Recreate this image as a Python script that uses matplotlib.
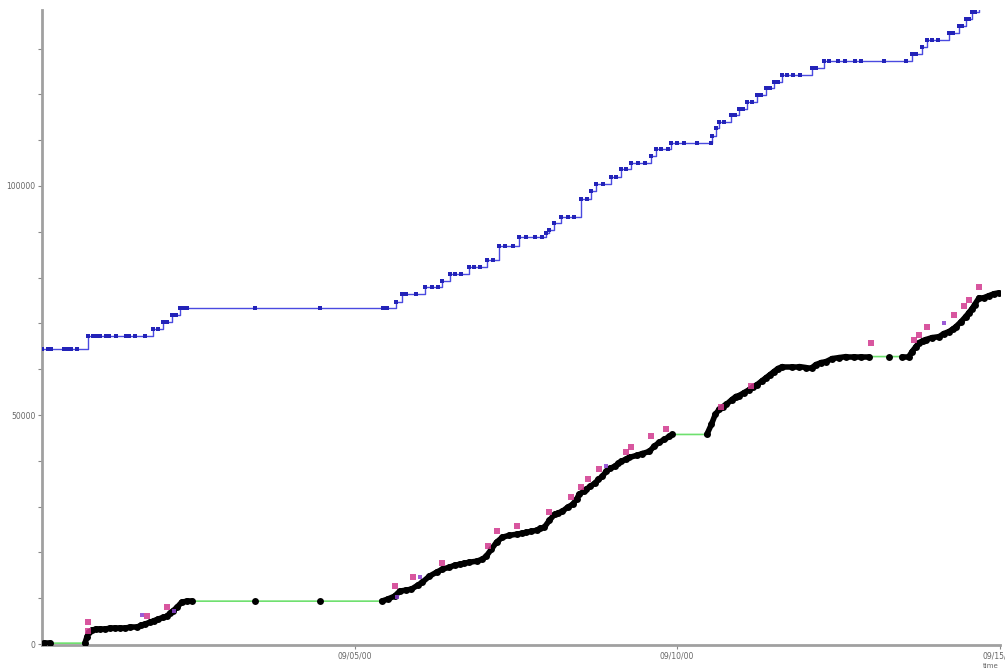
import matplotlib
matplotlib.use("Agg")
import matplotlib.pyplot as plt
import numpy as np
from matplotlib.ticker import MultipleLocator, FixedLocator
from matplotlib.collections import LineCollection

# x = days since 08/31 00:00 (so 5.0 -> 09/05/00), y = cumulative count

# upper series (blue step curve)
blue_t = [0.155, 0.867, 1.873, 2.028, 2.167, 2.291, 3.45, 4.46, 5.433, 5.635, 5.728,
          6.084, 6.347, 6.471, 6.780, 7.059, 7.245, 7.554, 7.972, 8.019, 8.096, 8.204,
          8.514, 8.669, 8.746, 8.978, 9.133, 9.288, 9.598, 9.675, 9.907, 10.526, 10.542,
          10.604, 10.650, 10.836, 10.960, 11.084, 11.238, 11.378, 11.502, 11.625, 12.090,
          12.276, 13.638, 13.793, 13.870, 14.211, 14.365, 14.474, 14.567, 14.675]
blue_v = [64500, 67330, 68860, 70380, 71910, 73430, 73430, 73430, 73430, 74740, 76480,
          78010, 79320, 80840, 82370, 83890, 86940, 88900, 89780, 90430, 91950, 93260,
          97180, 98930, 100450, 101980, 103720, 105030, 106550, 108080, 109390, 109390, 110910,
          112650, 113960, 115490, 116790, 118320, 119850, 121370, 122680, 124200, 125730,
          127250, 128780, 130300, 131830, 133350, 134880, 136410, 137930, 139460]
blue_sample_t = [0.25, 0.3, 0.5, 0.55, 0.6, 0.7, 0.95, 1.0, 1.05, 1.15, 1.2, 1.3, 1.45,
                 1.5, 1.6, 1.75, 1.95, 2.1, 2.23, 2.35, 2.4, 5.5, 5.8, 5.95, 6.2, 6.3,
                 6.55, 6.65, 6.85, 6.95, 7.15, 7.33, 7.45, 7.65, 7.8, 7.9, 8.3, 8.4, 8.6,
                 8.85, 9.05, 9.2, 9.4, 9.5, 9.75, 9.85, 10.0, 10.1, 10.3, 10.73, 10.9,
                 11.02, 11.16, 11.3, 11.44, 11.56, 11.7, 11.8, 11.9, 12.15, 12.35, 12.5,
                 12.6, 12.75, 12.85, 13.2, 13.55, 13.7, 13.95, 14.05, 14.28, 14.42, 14.52,
                 14.62]

# lower series (black observations joined by a green line)
obs_t = [0.19, 0.28, 0.82, 0.85, 0.88, 0.93, 0.99, 1.05, 1.13, 1.21, 1.29, 1.36, 1.44,
         1.52, 1.63, 1.69, 1.75, 1.83, 1.89, 1.95, 2.03, 2.09, 2.14, 2.18, 2.25, 2.32,
         2.40, 2.48, 3.45, 4.46, 5.42, 5.51, 5.62, 5.70, 5.79, 5.88, 5.98, 6.05, 6.16,
         6.27, 6.36, 6.47, 6.55, 6.63, 6.70, 6.78, 6.89, 6.98, 7.04, 7.12, 7.20, 7.29,
         7.40, 7.51, 7.59, 7.66, 7.74, 7.82, 7.88, 7.94, 8.02, 8.10, 8.16, 8.22, 8.30,
         8.38, 8.44, 8.48, 8.55, 8.59, 8.65, 8.72, 8.78, 8.84, 8.90, 8.96, 9.03, 9.09,
         9.13, 9.20, 9.26, 9.37, 9.46, 9.57, 9.64, 9.72, 9.80, 9.88, 9.92, 10.46, 10.53,
         10.59, 10.65, 10.71, 10.76, 10.85, 10.91, 10.96, 11.04, 11.12, 11.18, 11.24,
         11.32, 11.38, 11.44, 11.50, 11.56, 11.63, 11.78, 11.89, 12.00, 12.09, 12.15,
         12.23, 12.31, 12.40, 12.51, 12.62, 12.74, 12.85, 12.97, 13.28, 13.48, 13.59,
         13.64, 13.70, 13.75, 13.81, 13.85, 13.95, 14.06, 14.13, 14.21, 14.27, 14.32,
         14.40, 14.47, 14.52, 14.57, 14.61, 14.68, 14.75, 14.83, 14.91, 14.99]
obs_v = [200, 200, 200, 1500, 2600, 3050, 3270, 3270, 3270, 3490, 3490, 3490, 3490,
         3700, 3700, 4140, 4360, 4790, 5100, 5450, 5800, 6100, 6750, 7190, 8060, 9150,
         9370, 9370, 9370, 9370, 9370, 9810, 10460, 11550, 11770, 11980, 12860, 13510, 14820,
         15690, 16340, 16780, 17210, 17430, 17650, 17870, 18090, 18520, 19180, 20700, 22230, 23320,
         23750, 23970, 24190, 24400, 24620, 24840, 25280, 25490, 27020, 28330, 28650, 28980, 29850,
         30510, 31600, 32690, 33340, 33770, 34430, 35080, 35950, 36610, 37700, 38350, 38790, 39440,
         39880, 40310, 40750, 41180, 41600, 42050, 43140, 44020, 44670, 45320, 45760, 45760, 47940,
         50120, 51210, 51860, 52300, 53390, 54040, 54260, 54910, 55560, 56220, 56650,
         57530, 58180, 58830, 59490, 60140, 60580, 60580, 60580, 60360, 60360, 61010,
         61450, 61670, 62320, 62540, 62760, 62760, 62760, 62760, 62760, 62760, 62760,
         63840, 64930, 65810, 66240, 66460, 66900, 67110, 67770, 68200, 68750, 69290,
         70380, 71470, 72340, 73210, 74090, 75610, 75610, 76050, 76480, 76700]

# flagged points above the lower curve
flag_t = [0.87, 0.87, 1.78, 2.09, 5.62, 5.90, 6.35, 7.06, 7.21, 7.51, 8.02, 8.36, 8.51,
          8.61, 8.79, 9.21, 9.29, 9.60, 9.83, 10.68, 11.15, 13.00, 13.67, 13.75, 13.87,
          14.29, 14.44, 14.52, 14.68]
flag_v = [4790, 2830, 6100, 8060, 12640, 14600, 17650, 21350, 24620, 25710, 28760, 32030, 34210,
          35950, 38130, 41840, 42930, 45320, 46850, 51860, 56440, 65810, 66460, 67550, 69290,
          71910, 73870, 75180, 78010]
flag2_t = [1.70, 6.01, 8.90, 14.13, 5.65, 2.2]
flag2_v = [6300, 14600, 38790, 70160, 10200, 7300]

tick_pos = [5, 10, 15]
tick_labels = ["09/05/00", "09/10/00", "09/15/00"]

fig = plt.figure(figsize=(10.05, 6.69), dpi=100)
ax = fig.add_axes([0.0418, 0.0359, 0.953, 0.949])

ax.step(blue_t, blue_v, where="post", color="#4a4ae0", lw=1.0, zorder=2)
# sample markers sit on the step level in force at their time
bt = np.array(blue_t)
bv = np.array(blue_v)
idx = np.searchsorted(bt, blue_sample_t, side="right") - 1
ax.plot(blue_t, blue_v, ls="none", marker="s", ms=2.5, mew=0, color="#2323b8", zorder=3)
ax.plot(blue_sample_t, bv[idx], ls="none", marker="s", ms=2.5, mew=0, color="#2323b8", zorder=3)

ax.plot(obs_t, obs_v, color="#6ee06e", lw=1.2, zorder=2)
# dense runs of observations blur into a thick black trace
ot = np.array(obs_t)
ov = np.array(obs_v)
pts = np.column_stack([ot, ov])
close = np.diff(ot) < 0.16
segs = np.stack([pts[:-1], pts[1:]], axis=1)[close]
ax.add_collection(LineCollection(segs, colors="black", linewidths=4.0, zorder=3,
                                 capstyle="round"))
ax.plot(obs_t, obs_v, ls="none", marker="o", ms=5, mew=0, color="black", zorder=3)
ax.plot(flag_t, flag_v, ls="none", marker="s", ms=4, mew=0, color="#d2388e", alpha=0.85, zorder=4)
ax.plot(flag2_t, flag2_v, ls="none", marker="s", ms=3.5, mew=0, color="#8a3fd0", alpha=0.85, zorder=4)

ax.set_xlim(0.155, 15.0)
ax.set_ylim(-200, 138400)

for s in ["top", "right"]:
    ax.spines[s].set_visible(False)
for s in ["left", "bottom"]:
    ax.spines[s].set_color("#a0a0a0")
    ax.spines[s].set_linewidth(2)

ax.yaxis.set_major_locator(FixedLocator([0, 50000, 100000]))
ax.yaxis.set_minor_locator(MultipleLocator(10000))
ax.set_yticklabels(["0", "50000", "100000"])
ax.xaxis.set_major_locator(FixedLocator(tick_pos))
ax.set_xticklabels(tick_labels)
ax.tick_params(axis="both", which="both", colors="#888888", labelcolor="#666666",
               labelsize=5.5, length=3, width=0.8, pad=1.5)

fig.text(0.986, 0.0, "time", fontsize=5, color="#666666", ha="center", va="bottom")

fig.savefig("out.png", dpi=100)
